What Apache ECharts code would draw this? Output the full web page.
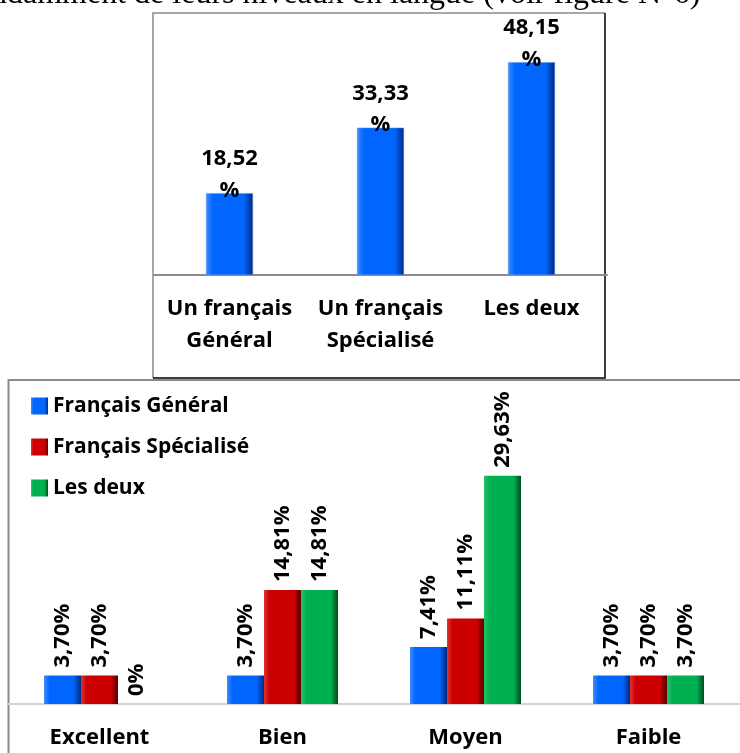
<!DOCTYPE html>
<html lang="fr">
<head>
	<meta charset="UTF-8">
	<title>Niveaux en langue</title>
	<style type="text/css">
	body,html{
		width: 100%;
		height: 100%;
		margin: 0;
		padding: 0;
		background: #fff;
	}
	#container{
		width: 740px;
		height: 753px;
	}
	</style>
</head>
<body>
	<div id="container"></div>
<script type="text/javascript" src="https://cdn.jsdelivr.net/npm/echarts@6/dist/echarts.min.js"></script>
<script type="text/javascript">
	// figure du haut
	var topCategories = ['Un français\nGénéral', 'Un français\nSpécialisé', 'Les deux'];
	var topValues = [18.52, 33.33, 48.15];

	// figure du bas
	var levelCategories = ['Excellent', 'Bien', 'Moyen', 'Faible'];
	var seriesNames = ['Français Général', 'Français Spécialisé', 'Les deux'];
	var generalValues = [3.70, 3.70, 7.41, 3.70];
	var specialiseValues = [3.70, 14.81, 11.11, 3.70];
	var deuxValues = [0, 14.81, 29.63, 3.70];

	var FONT = '"Open Sans", "Noto Sans", sans-serif';

	// faux biseau : bord gauche clair, bord droit sombre
	var bevel = function (light, main, dark) {
		return new echarts.graphic.LinearGradient(0, 0, 1, 0, [
			{ offset: 0, color: light },
			{ offset: 0.15, color: main },
			{ offset: 0.8, color: main },
			{ offset: 1, color: dark }
		]);
	};
	var blue = bevel('#3d8cff', '#0066ff', '#00297d');
	var red = bevel('#e03333', '#cc0000', '#560000');
	var green = bevel('#26c466', '#00b050', '#004a20');

	var fr = function (v) {
		return v === 0 ? '0' : v.toFixed(2).replace('.', ',');
	};

	var option = {
		backgroundColor: '#fff',
		animation: false,
		graphic: [
			{
				type: 'text', left: -9, top: -21, silent: true,
				style: { text: 'ndamment de leurs niveaux en langue (voir figure N°6)', font: '32px "Liberation Serif", serif', fill: '#000' }
			},
			{
				type: 'polyline', silent: true,
				shape: { points: [[153, 378], [153, 13], [605, 13]] },
				style: { stroke: '#8a8a8a', lineWidth: 1.5, fill: null }
			},
			{
				type: 'polyline', silent: true,
				shape: { points: [[605, 13], [605, 378], [153, 378]] },
				style: { stroke: '#000', lineWidth: 1.5, fill: null }
			},
			{
				type: 'polyline', silent: true,
				shape: { points: [[8.5, 753], [8.5, 380], [740, 380]] },
				style: { stroke: '#8a8a8a', lineWidth: 2, fill: null }
			}
		],
		legend: {
			data: seriesNames,
			orient: 'vertical',
			icon: 'rect',
			left: 26,
			top: 390,
			itemWidth: 17,
			itemHeight: 17,
			itemGap: 19,
			textStyle: { fontFamily: FONT, fontWeight: 'bold', fontSize: 21, lineHeight: 22, color: '#000' }
		},
		grid: [
			{ left: 154, width: 453, top: 54, height: 221 },
			{ left: 8, width: 741.6, top: 396, height: 308 }
		],
		xAxis: [
			{
				type: 'category', gridIndex: 0, data: topCategories,
				axisTick: { show: false },
				axisLine: { lineStyle: { color: '#8c8c8c', width: 2 } },
				axisLabel: { margin: 18, color: '#000', fontFamily: FONT, fontWeight: 'bold', fontSize: 22, lineHeight: 32, interval: 0 }
			},
			{
				type: 'category', gridIndex: 1, data: levelCategories,
				axisTick: { show: false },
				axisLine: { lineStyle: { color: '#d4d4d4', width: 2 } },
				axisLabel: { margin: 21, color: '#000', fontFamily: FONT, fontWeight: 'bold', fontSize: 22, lineHeight: 26, interval: 0 }
			}
		],
		yAxis: [
			{ type: 'value', gridIndex: 0, min: 0, max: 50, show: false, splitLine: { show: false } },
			{ type: 'value', gridIndex: 1, min: 0, max: 40, show: false, splitLine: { show: false } }
		],
		series: [
			{
				type: 'bar', name: 'Niveau', xAxisIndex: 0, yAxisIndex: 0,
				data: topValues, barWidth: 47,
				itemStyle: { color: blue, borderColor: '#5b95f0', borderWidth: 0.5 },
				label: {
					show: true, position: 'top', offset: [0, 18],
					color: '#000', fontFamily: FONT, fontWeight: 'bold', fontSize: 22, lineHeight: 31.5,
					formatter: function (p) { return fr(p.value) + '\n%'; }
				}
			},
			{ name: seriesNames[0], data: generalValues, color: blue, itemStyle: { color: blue } },
			{ name: seriesNames[1], data: specialiseValues, color: red, itemStyle: { color: red } },
			{ name: seriesNames[2], data: deuxValues, color: green, itemStyle: { color: green } }
		]
	};

	// séries groupées du bas : réglages communs
	for (var i = 1; i < option.series.length; i++) {
		var s = option.series[i];
		s.type = 'bar';
		s.xAxisIndex = 1;
		s.yAxisIndex = 1;
		s.barWidth = 37;
		s.barGap = '0%';
		s.label = {
			show: true, position: 'top', distance: 8, rotate: 90,
			align: 'left', verticalAlign: 'middle',
			color: '#000', fontFamily: FONT, fontWeight: 'bold', fontSize: 22,
			formatter: function (p) { return fr(p.value) + '%'; }
		};
	}

	var container = echarts.init(document.getElementById('container'));
	container.setOption(option, true);
</script>
</body>
</html>
